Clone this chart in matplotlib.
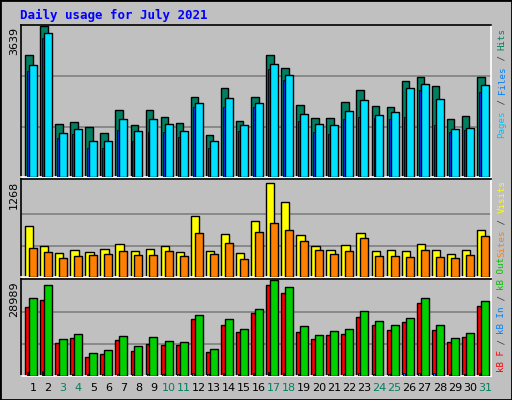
import matplotlib
matplotlib.use("Agg")
import matplotlib.pyplot as plt
from matplotlib.patches import Rectangle
import numpy as np

days = list(range(1, 32))
weekend = [3, 4, 10, 11, 17, 18, 24, 25, 31]
hits = [2939,3639,1263,1312,1213,1065,1609,1238,1609,1436,1288,1931,1015,2129,1337,1931,
        2922,2625,1733,1411,1411,1807,2080,1708,1684,2303,2402,2179,1387,1461,2402]
files = [2699,3466,1065,1164,867,867,1387,1114,1387,1263,1114,1783,867,1907,1238,1783,
         2724,2451,1510,1263,1238,1585,1857,1486,1560,2129,2228,1882,1164,1188,2204]
pages = [2550,3343,941,1040,693,693,1139,867,1089,1089,966,1684,693,1684,1114,1684,
         2600,2327,1337,1089,1040,1387,1436,1411,1387,1436,2080,1238,1089,1139,2030]
visits = [685,423,327,368,340,382,451,354,382,423,340,823,354,575,327,754,
          1268,1016,561,423,368,437,588,354,368,354,451,368,313,368,630]
sites = [395,340,258,285,299,313,354,299,299,354,285,588,313,464,244,602,
         726,630,492,368,313,354,520,285,285,271,368,271,258,299,547]
kb_out = [23576,27400,11151,12744,7009,7965,12107,8921,11788,10514,10195,18479,8284,17204,14337,20390,
          28989,26762,14974,12425,13700,14337,19753,16567,15293,17523,23576,15293,11470,13063,22621]
kb_f = [20709,22939,9877,11470,5735,6691,10832,7646,9558,9239,9239,17204,7328,15293,13381,19116,
        27400,25169,13381,11151,12425,12744,17842,15293,14018,16249,21983,14018,10195,11788,21028]
kb_in = [1200,1500,600,600,600,600,600,600,600,600,600,1000,600,1000,600,1000,
         1300,1000,600,600,600,600,1000,600,600,1000,1000,1000,600,600,1000]

W, H = 512, 400
fig = plt.figure(figsize=(W/100, H/100), dpi=100)
fig.patch.set_facecolor('#C0C0C0')
fig.patches.append(Rectangle((0, 0), 1, 1, transform=fig.transFigure, fill=False,
                             edgecolor='black', lw=2))

def ax_px(x0, y0, x1, y1):
    return fig.add_axes([x0/W, 1-y1/H, (x1-x0)/W, (y1-y0)/H])

x = np.array(days)
ec = 'black'
panels = [(25, 177), (179, 277), (279, 376)]
axes = []
for (y0, y1) in panels:
    a = ax_px(21, y0, 491, y1)
    a.set_facecolor('#C0C0C0')
    a.set_xlim(0.2, 31.4)
    a.set_xticks([]); a.set_yticks([])
    for s in ['top', 'left']:
        a.spines[s].set_color('black')
    for s in ['bottom', 'right']:
        a.spines[s].set_color('white')
    for s in a.spines.values():
        s.set_linewidth(1.2)
    axes.append(a)

a1, a2, a3 = axes
a1.set_ylim(0, 3639 * 147.5 / 147)
for g in [3639/3, 2*3639/3]:
    a1.axhline(g, color='#808080', lw=1.2, zorder=0)
a1.bar(x - 0.53, hits, width=0.5, align='edge', color='#008060', edgecolor=ec, lw=1, zorder=2)
a1.bar(x - 0.4, pages, width=0.13, align='edge', color='#0040FF', edgecolor=ec, lw=0.6, zorder=3)
a1.bar(x - 0.27, files, width=0.53, align='edge', color='#00E0FF', edgecolor=ec, lw=1, zorder=4)

a2.set_ylim(0, 1268 * 96 / 92)
for g in [1268/3, 2*1268/3]:
    a2.axhline(g, color='#808080', lw=1.2, zorder=0)
a2.bar(x - 0.53, visits, width=0.55, align='edge', color='#FFFF00', edgecolor=ec, lw=1, zorder=2)
a2.bar(x - 0.27, sites, width=0.53, align='edge', color='#FF8000', edgecolor=ec, lw=1, zorder=3)

a3.set_ylim(0, 28989 * 92 / 91)
for g in [28989/3, 2*28989/3]:
    a3.axhline(g, color='#808080', lw=1.2, zorder=0)
a3.bar(x - 0.53, kb_f, width=0.36, align='edge', color='#FF0000', edgecolor=ec, lw=1, zorder=2)
a3.bar(x - 0.42, kb_in, width=0.1, align='edge', color='#0080FF', edgecolor=ec, lw=0.6, zorder=3)
a3.bar(x - 0.27, kb_out, width=0.53, align='edge', color='#00D000', edgecolor=ec, lw=1, zorder=4)

for d in days:
    xf = (21 + (d - 0.2) / 31.2 * 470) / W
    fig.text(xf, 1 - 388/H, str(d), ha='center', va='center', fontsize=8,
             color='#008060' if d in weekend else 'black', family='DejaVu Sans')

fig.text(20/W, 1 - 15/H, 'Daily usage for July 2021', color='#0000FF', fontsize=9,
         fontweight='bold', family='DejaVu Sans Mono', va='center', ha='left')

def ylab(txt, ytop):
    fig.text(14/W, 1 - ytop/H, txt, rotation=90, fontsize=8, ha='center', va='top',
             family='DejaVu Sans')
ylab('3639', 27)
ylab('1268', 181)
ylab('28989', 281)

CH = 5.5  # px per char
def rlab(parts, ybot):
    y = ybot
    for txt, col in parts:
        fig.text(502/W, 1 - y/H, txt, rotation=90, fontsize=6.6, ha='center', va='bottom',
                 color=col, family='DejaVu Sans Mono')
        y -= len(txt) * CH

rlab([('Pages', '#00C0FF'), (' / ', '#404040'), ('Files', '#0080FF'),
      (' / ', '#404040'), ('Hits', '#008060')], 138)
rlab([('Sites', '#FF8000'), (' / ', '#404040'), ('Visits', '#FFFF00')], 257)
rlab([('kB F', '#FF0000'), (' / ', '#404040'), ('kB In', '#0080FF'),
      (' / ', '#404040'), ('kB Out', '#00C000')], 372)

fig.savefig('out.png', dpi=100, facecolor=fig.get_facecolor())
